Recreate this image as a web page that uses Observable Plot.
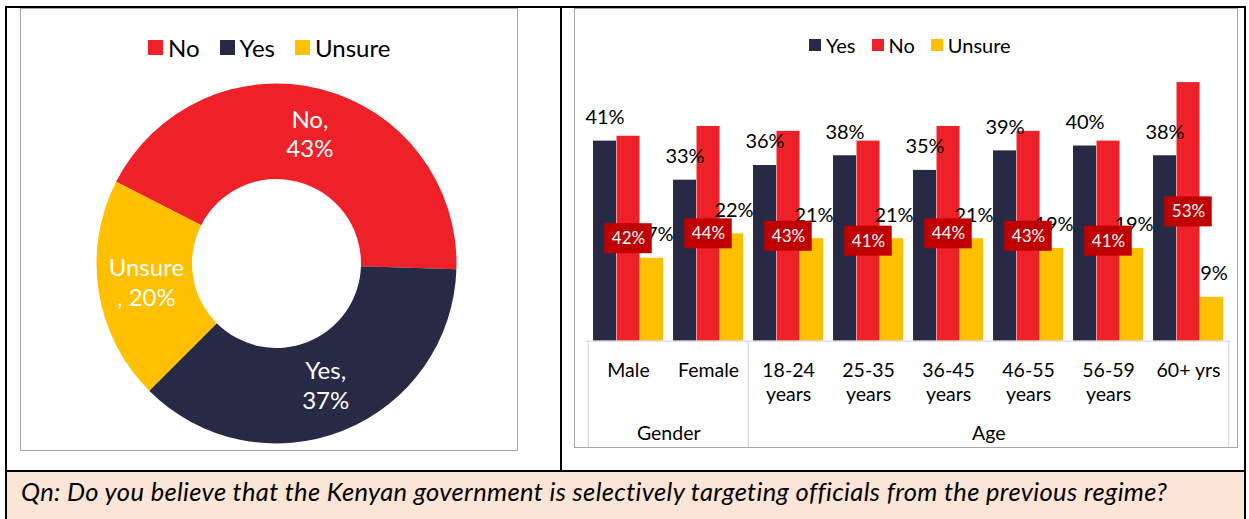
<!DOCTYPE html>
<html><head><meta charset="utf-8">
<script src="https://cdn.jsdelivr.net/npm/d3@7"></script>
<script src="https://cdn.jsdelivr.net/npm/@observablehq/plot@0.6"></script>
<style>
html,body{margin:0;padding:0;background:#fff;}
body{width:1249px;height:519px;position:relative;overflow:hidden;font-family:Lato,"Open Sans",sans-serif;color:#000;}
.line{position:absolute;background:#000;}
.frame{position:absolute;border:1px solid #A6A6A6;box-sizing:border-box;}
.legend{position:absolute;display:flex;align-items:center;white-space:nowrap;color:#000;}
.legend span.sw{display:inline-block;}
.plotwrap{position:absolute;}
.plotwrap svg{overflow:visible;}
#caption{position:absolute;left:7px;top:472px;width:1237px;height:47px;background:#FBE5D6;}
#caption div{position:absolute;left:14px;top:5px;font-style:italic;font-size:25.5px;letter-spacing:0.35px;line-height:28px;white-space:nowrap;}
</style></head><body>
<div id="caption"><div id="captext"></div></div>
<div class="line" style="left:5px;top:6px;width:1241px;height:2px"></div>
<div class="line" style="left:5px;top:6px;width:2px;height:513px"></div>
<div class="line" style="left:1244px;top:6px;width:2px;height:513px"></div>
<div class="line" style="left:560px;top:6px;width:2px;height:466px"></div>
<div class="line" style="left:5px;top:470px;width:1241px;height:2px"></div>
<div class="frame" style="left:20px;top:8px;width:498px;height:443px"></div>
<div class="frame" style="left:574px;top:8px;width:664px;height:440px"></div>
<div id="legend1" class="legend" style="left:148px;top:34px;height:26px;font-size:24px"></div>
<div id="legend2" class="legend" style="left:809px;top:33px;height:24px;font-size:20px"></div>
<div id="donut" class="plotwrap" style="left:21px;top:9px"></div>
<div id="bars" class="plotwrap" style="left:575px;top:9px"></div>
<script>
// ---------- data ----------
const overallLabels = ["No", "Yes", "Unsure"];
const overallValues = [43, 37, 20];

const categories = ["Male", "Female", "18-24 years", "25-35 years", "36-45 years", "46-55 years", "56-59 years", "60+ yrs"];
const tickLabels = ["Male", "Female", "18-24\nyears", "25-35\nyears", "36-45\nyears", "46-55\nyears", "56-59\nyears", "60+ yrs"];
const groupNames = ["Gender", "Age"];
const groupMembers = [["Male", "Female"], ["18-24 years", "25-35 years", "36-45 years", "46-55 years", "56-59 years", "60+ yrs"]];

const seriesNames = ["Yes", "No", "Unsure"];
const yesValues = [41, 33, 36, 38, 35, 39, 40, 38];
const noValues = [42, 44, 43, 41, 44, 43, 41, 53];
const unsureValues = [17, 22, 21, 21, 21, 19, 19, 9];

const captionText = "Qn: Do you believe that the Kenyan government is selectively targeting officials from the previous regime?";

// ---------- styles ----------
const colors = {Yes: "#262A45", No: "#EE2129", Unsure: "#FFC000"};
const boxColor = "#C00000";
const legend1Order = ["No", "Yes", "Unsure"];
const legend2Order = ["Yes", "No", "Unsure"];

document.getElementById("captext").textContent = captionText;

function makeLegend(el, order, sq, gapText, gapItem) {
  order.forEach((k, i) => {
    const item = document.createElement("span");
    item.style.display = "inline-flex";
    item.style.alignItems = "center";
    item.style.marginRight = (i < order.length - 1 ? gapItem : 0) + "px";
    const sw = document.createElement("span");
    sw.className = "sw";
    sw.style.width = sq + "px"; sw.style.height = sq + "px";
    sw.style.background = colors[k];
    sw.style.marginRight = gapText + "px";
    const t = document.createElement("span");
    t.textContent = k;
    item.appendChild(sw); item.appendChild(t);
    el.appendChild(item);
  });
}
makeLegend(document.getElementById("legend1"), legend1Order, 15, 5, 20);
makeLegend(document.getElementById("legend2"), legend2Order, 12, 5, 16);

// ---------- donut ----------
const overall = overallLabels.map((label, i) => ({label, value: overallValues[i]}));
const outerR = 180, innerR = 84.5;
const startAngleDeg = -63;
const start = startAngleDeg * Math.PI / 180;
const pie = d3.pie().sort(null).value(d => d.value).startAngle(start).endAngle(start + 2 * Math.PI);
const arcs = pie(overall);
const arcGen = d3.arc().innerRadius(innerR).outerRadius(outerR);
const dW = 496, dH = 441, dcx = 255.5, dcy = 254.5;

const donut = Plot.plot({
  width: dW, height: dH, margin: 0,
  style: {fontFamily: "Lato, sans-serif", background: "transparent", overflow: "visible"},
  x: {type: "linear", domain: [-outerR, outerR], range: [dcx - outerR, dcx + outerR], axis: null},
  y: {type: "linear", domain: [-outerR, outerR], range: [dcy - outerR, dcy + outerR], axis: null},
  marks: [
    (index, scales) => {
      const tx = scales && scales.x ? scales.x(0) : dcx;
      const ty = scales && scales.y ? scales.y(0) : dcy;
      const g = d3.create("svg:g").attr("transform", `translate(${tx},${ty})`);
      g.selectAll("path").data(arcs).join("path")
        .attr("d", arcGen)
        .attr("fill", d => colors[d.data.label]);
      return g.node();
    },
    Plot.text(arcs, {
      x: d => arcGen.centroid(d)[0],
      y: d => arcGen.centroid(d)[1] - 3,
      text: d => d.data.label.length > 3 ? `${d.data.label}\n, ${d.data.value}%` : `${d.data.label},\n${d.data.value}%`,
      fill: "white", fontSize: 24, lineHeight: 1.25, textAnchor: "middle"
    })
  ]
});
document.getElementById("donut").appendChild(donut);

// ---------- grouped bars ----------
const rows = categories.map((c, i) => ({cat: c, tick: tickLabels[i], Yes: yesValues[i], No: noValues[i], Unsure: unsureValues[i]}));
const bW = 662, bH = 438;
const mLeft = 10.7, mRight = 7.1;
const baseY = 331.7;
const yMax = 60;
const pxPerPct = 4.88;
const mTop = baseY - yMax * pxPerPct;
const mBottom = bH - baseY;
const step = (bW - mLeft - mRight) / categories.length;
const barW = 23.5;
const outer = (step - 3 * barW) / 2;
const tableDepth = -(bH - baseY) / pxPerPct; // value at the bottom of the axis table
const boxHalf = 15 / pxPerPct;
const boxHalfW = 24;

const barMarks = seriesNames.map((s, i) => Plot.barY(rows, {
  x: "cat", y: s, fill: colors[s],
  insetLeft: outer + i * barW,
  insetRight: step - (outer + i * barW) - barW
}));

const labelMarks = ["Yes", "Unsure"].map(s => Plot.text(rows, {
  x: "cat", y: s, text: d => d[s] + "%",
  dx: (seriesNames.indexOf(s) - 1) * barW + (s === "Unsure" ? 2 : 0), dy: -23.5,
  fontSize: 20, fill: "#000", textAnchor: "middle", lineAnchor: "middle"
}));

const sepRows = [];
groupMembers.forEach(m => sepRows.push({cat: m[0], side: -1}));
sepRows.push({cat: groupMembers[groupMembers.length - 1].slice(-1)[0], side: 1});

const groupRows = groupNames.map((g, i) => ({name: g, anchor: groupMembers[i][groupMembers[i].length / 2 - 1]}));

const bars = Plot.plot({
  width: bW, height: bH,
  marginLeft: mLeft, marginRight: mRight, marginTop: mTop, marginBottom: mBottom,
  style: {fontFamily: "Lato, sans-serif", background: "transparent", overflow: "visible"},
  x: {type: "band", domain: categories, padding: 0, axis: null},
  y: {domain: [0, yMax], axis: null},
  marks: [
    ...barMarks,
    ...labelMarks,
    Plot.barY(rows, {
      x: "cat", y1: d => d.No / 2 - boxHalf, y2: d => d.No / 2 + boxHalf,
      fill: boxColor, insetLeft: step / 2 - boxHalfW, insetRight: step / 2 - boxHalfW
    }),
    Plot.text(rows, {
      x: "cat", y: d => d.No / 2, text: d => d.No + "%",
      fill: "white", fontSize: 17, textAnchor: "middle", lineAnchor: "middle"
    }),
    // axis table
    Plot.ruleY([0], {stroke: "#D9D9D9", strokeWidth: 1.2}),
    Plot.ruleX(sepRows.filter(d => d.side < 0), {x: "cat", y1: 0, y2: tableDepth, dx: -step / 2, stroke: "#D9D9D9", strokeWidth: 1.2}),
    Plot.ruleX(sepRows.filter(d => d.side > 0), {x: "cat", y1: 0, y2: tableDepth, dx: step / 2, stroke: "#D9D9D9", strokeWidth: 1.2}),
    Plot.text(rows, {
      x: "cat", y: 0, text: "tick", dy: 17.6,
      fontSize: 19.5, lineHeight: 1.28, lineAnchor: "top", textAnchor: "middle", fill: "#000"
    }),
    Plot.text(groupRows, {
      x: "anchor", y: 0, text: "name", dx: step / 2, dy: 92.3,
      fontSize: 19.5, lineAnchor: "middle", textAnchor: "middle", fill: "#000"
    })
  ]
});
document.getElementById("bars").appendChild(bars);
</script>
</body></html>
